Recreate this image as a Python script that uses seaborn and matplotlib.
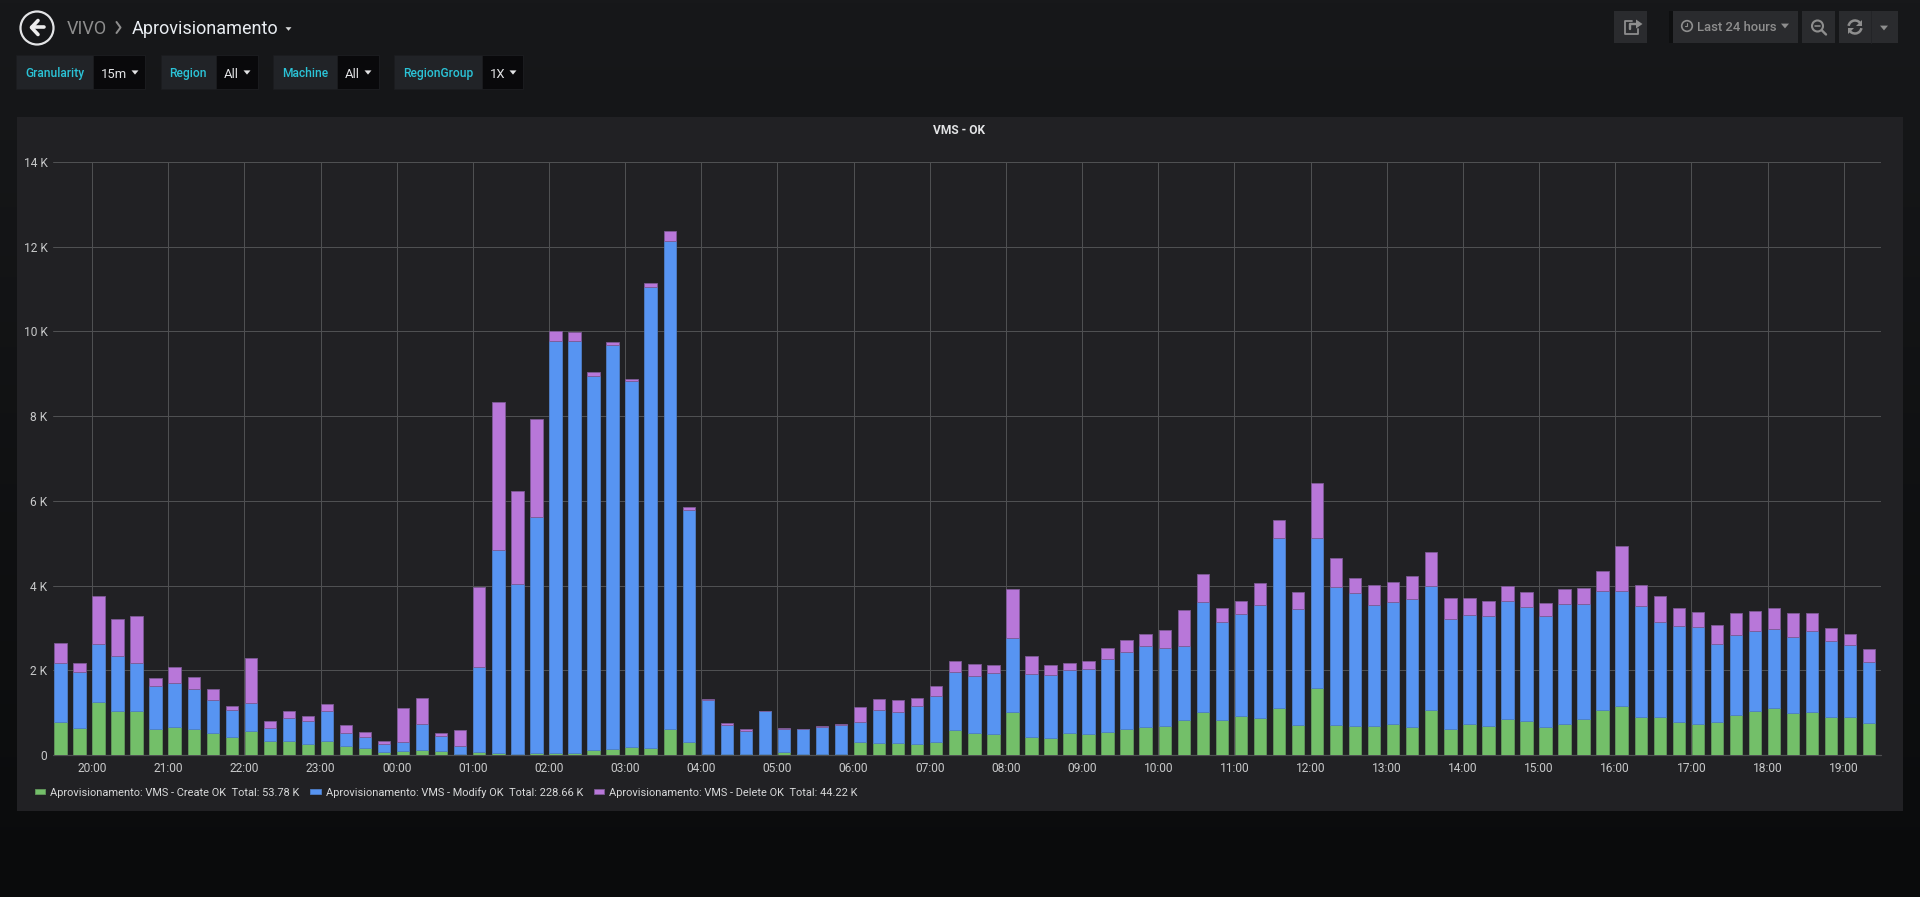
import matplotlib
matplotlib.use('Agg')
import matplotlib.pyplot as plt
import matplotlib.patches as mpatches
import numpy as np
import pandas as pd
import seaborn as sns

# 15 minute buckets, 19:30 to 19:15 the next day
create_ok = [790, 635, 1247, 1050, 1027, 620, 659, 612, 510, 416, 557, 321, 329, 259, 337, 204,
             157, 78, 102, 110, 94, 31, 65, 44, 26, 44, 52, 44, 122, 148, 191, 174,
             617, 304, 26, 26, 12, 16, 63, 31, 31, 31, 314, 290, 290, 251, 314, 596,
             510, 502, 1019, 431, 392, 517, 502, 549, 612, 659, 682, 831, 1015, 835,
             910, 862, 1114, 714, 1584, 706, 690, 690, 737, 667, 1067, 612, 737, 690, 847, 808,
             659, 741, 839, 1074, 1153, 886, 886, 776, 721, 776, 933, 1027, 1121, 980, 1019, 886,
             886, 745]
modify_ok = [1390, 1333, 1364, 1294, 1137, 1019, 1050, 940, 784, 635, 666, 314, 541, 549, 698, 313,
             266, 189, 204, 619, 353, 173, 2015, 4786, 4019, 5586, 9718, 9726, 8830, 9542, 8649, 10866,
             11513, 5481, 1261, 687, 565, 1011, 541, 573, 628, 675, 470, 776, 729, 909, 1074, 1356,
             1348, 1427, 1741, 1482, 1490, 1483, 1536, 1717, 1818, 1913, 1843, 1741, 2596, 2310,
             2415, 2683, 4000, 2729, 3530, 3255, 3130, 2855, 2879, 3011, 2917, 2604, 2573, 2581, 2785, 2682,
             2627, 2835, 2737, 2792, 2713, 2636, 2243, 2267, 2290, 1844, 1906, 1906, 1843, 1796, 1906, 1812,
             1710, 1451]
delete_ok = [455, 197, 1137, 878, 1121, 180, 361, 283, 266, 101, 1058, 165, 165, 109, 180, 188,
             118, 62, 815, 611, 70, 392, 1895, 3505, 2193, 2313, 235, 220, 88, 60, 40, 95,
             230, 79, 43, 52, 43, 8, 23, 8, 15, 15, 361, 267, 275, 196, 243, 267,
             290, 203, 1160, 415, 250, 180, 189, 259, 290, 290, 415, 846, 659, 337,
             314, 518, 431, 408, 1301, 698, 368, 471, 478, 549, 816, 494, 408, 353, 352, 361,
             314, 338, 377, 479, 1059, 494, 636, 439, 369, 438, 510, 463, 510, 580, 424, 305,
             251, 306]

series_names = ['Aprovisionamento: VMS - Create OK', 'Aprovisionamento: VMS - Modify OK',
                'Aprovisionamento: VMS - Delete OK']
series_totals = ['53.78 K', '228.66 K', '44.22 K']
hour_labels = ['20:00', '21:00', '22:00', '23:00', '00:00', '01:00', '02:00', '03:00', '04:00', '05:00',
               '06:00', '07:00', '08:00', '09:00', '10:00', '11:00', '12:00', '13:00', '14:00', '15:00',
               '16:00', '17:00', '18:00', '19:00']
y_ticks = [0, 2000, 4000, 6000, 8000, 10000, 12000, 14000]
y_labels = ['0', '2 K', '4 K', '6 K', '8 K', '10 K', '12 K', '14 K']

times = pd.date_range('2019-01-01 19:30', periods=len(create_ok), freq='15min').strftime('%d %H:%M')

GREEN, BLUE, PURPLE = '#73BF69', '#5794F2', '#B877D9'
EDGES = ['#62985C', '#4F7FC8', '#7D5A95']
GREY = '#8E8E8E'
TEAL = '#2BC4D8'
TICK = '#C8C9CA'
GRID = '#4F5052'
W, H = 1920, 897

sns.set_theme(style='dark')
plt.rcParams['font.family'] = ['Roboto', 'DejaVu Sans']

fig = plt.figure(figsize=(W / 100, H / 100), dpi=100)

# page chrome, drawn in pixel coordinates
bg = fig.add_axes([0, 0, 1, 1], zorder=0)
shade = np.linspace(0, 1, 256).reshape(-1, 1)
top_col, bot_col = np.array([0x17, 0x18, 0x1A]) / 255, np.array([0x0A, 0x0B, 0x0C]) / 255
bg.imshow((top_col + (bot_col - top_col) * shade[..., None]), aspect='auto', extent=[0, W, H, 0])
bg.set_xlim(0, W)
bg.set_ylim(H, 0)
bg.axis('off')


def box(x0, y0, x1, y1, color, ec='none'):
    bg.add_patch(mpatches.Rectangle((x0, y0), x1 - x0, y1 - y0, fc=color, ec=ec, lw=0.7))


def txt(x, y, s, color, px=12, weight='normal', ha='left'):
    bg.text(x, y - 1, s, color=color, fontsize=px * 0.72, fontweight=weight, ha=ha, va='center_baseline')


def caret(x, y, color, size=4):
    bg.add_patch(mpatches.Polygon([(x - size, y - size * 0.6), (x + size, y - size * 0.6), (x, y + size * 0.6)],
                                  fc=color, ec='none'))


def stroke(xs, ys, color, lw=2.0):
    bg.plot(xs, ys, color=color, lw=lw * 0.72, solid_capstyle='round', solid_joinstyle='round')


# panel
box(17, 117, 1903, 811, '#212124')
txt(959, 130.5, 'VMS - OK', '#E3E4E6', 12, 'bold', 'center')

# back button and breadcrumb
bg.add_patch(mpatches.Circle((37, 28), 16.5, fc='none', ec='#E3E4E6', lw=1.6))
stroke([38, 31.5, 38], [20.5, 27.5, 34.5], '#ECECEC', 3.6)
stroke([32, 44], [27.5, 27.5], '#ECECEC', 3.6)
txt(67, 28, 'VIVO', GREY, 18)
stroke([116.5, 120.5, 116.5], [22, 27.5, 33], GREY, 2)
txt(132, 28, 'Aprovisionamento', '#E9EDF2', 18)
caret(288.5, 29, '#D8D9DA', 3)

# template variables
var_boxes = [('Granularity', '15m', 16, 93, 145, 25, 101, 135),
             ('Region', 'All', 161, 216, 258, 169, 224, 247),
             ('Machine', 'All', 273, 337, 379, 282, 345, 368),
             ('RegionGroup', '1X', 394, 482, 523, 403, 490, 513)]
for name, val, x0, x1, x2, tx, vx, cx in var_boxes:
    box(x0, 55, x1, 89, '#212327', '#1B1C1F')
    box(x1, 55, x2, 89, '#09090B', '#1B1C1F')
    txt(tx, 73, name, TEAL, 12, 'medium')
    txt(vx, 74, val, '#E3E4E6', 13)
    caret(cx, 72.5, '#E3E4E6', 3.5)

# top right buttons
for x0, x1 in [(1614, 1647), (1673, 1798), (1802, 1835), (1839, 1870), (1870, 1898)]:
    box(x0, 11, x1, 43, '#2A2B2E')
stroke([1871, 1871], [11, 43], '#232427', 1)
box(1669, 11, 1673, 43, '#0E0F10')
# share
stroke([1632, 1625, 1625, 1638, 1638], [21, 21, 34, 34, 29], GREY, 1.8)
stroke([1630, 1630, 1637], [29, 24, 24], GREY, 2.4)
bg.add_patch(mpatches.Polygon([(1636, 19.5), (1642.5, 24), (1636, 28.5)], fc=GREY, ec='none'))
# time picker
bg.add_patch(mpatches.Circle((1687, 26), 5.3, fc='none', ec=GREY, lw=1.2))
stroke([1687, 1687, 1684.5], [23, 26.5, 26.5], GREY, 1.1)
txt(1697, 27, 'Last 24 hours', GREY, 13, 'medium')
caret(1785, 26, GREY, 4)
# zoom out
bg.add_patch(mpatches.Circle((1817.5, 26), 5.5, fc='none', ec=GREY, lw=1.5))
stroke([1815, 1820], [26, 26], GREY, 1.6)
stroke([1822, 1826], [30.5, 34.5], GREY, 2.4)
# refresh
bg.add_patch(mpatches.Arc((1855, 27), 13, 13, theta1=190, theta2=335, ec=GREY, lw=1.8))
bg.add_patch(mpatches.Arc((1855, 27), 13, 13, theta1=10, theta2=155, ec=GREY, lw=1.8))
bg.add_patch(mpatches.Polygon([(1862, 20), (1862, 26), (1856, 26)], fc=GREY, ec='none'))
bg.add_patch(mpatches.Polygon([(1848, 34), (1848, 28), (1854, 28)], fc=GREY, ec='none'))
caret(1884, 28, GREY, 4)

# the chart
ax = fig.add_axes([53 / W, (H - 755) / H, (1881 - 53) / W, 593 / H], zorder=1)
ax.patch.set_alpha(0)

colors = [GREEN, BLUE, PURPLE]
bottom = np.zeros(len(times))
for vals, name, total, col, edge in zip([create_ok, modify_ok, delete_ok], series_names, series_totals, colors, EDGES):
    sns.barplot(x=list(times), y=vals, color=col, saturation=1, width=0.65, bottom=bottom, ax=ax,
                edgecolor=edge, linewidth=0.6, label=f'{name}  Total: {total}', zorder=3)
    bottom = bottom + np.array(vals)

# bars start at their timestamp, so hour ticks sit on the left edge of each bar
hour_pos = np.arange(len(hour_labels)) * 4 + 2 - 0.34
ax.set_xticks(hour_pos, hour_labels)
ax.set_yticks(y_ticks, y_labels)
ax.set_xlim(-0.39, 95.62)
ax.set_ylim(0, 14000)
ax.set_xlabel('')
ax.set_ylabel('')
ax.set_axisbelow(True)
ax.grid(True, color=GRID, lw=0.72)
ax.tick_params(axis='both', length=0, colors=TICK, labelsize=12 * 0.72)
ax.tick_params(axis='x', pad=5)
ax.tick_params(axis='y', pad=4)
for s in ax.spines.values():
    s.set_visible(False)
ax.axhline(0, color=GRID, lw=0.9, zorder=2, clip_on=False)

leg = ax.legend(loc='upper left', bbox_to_anchor=((35 - 53) / 1828, -0.0535), ncol=3, frameon=False,
                handlelength=0.95, handleheight=0.3, handletextpad=0.45, columnspacing=0.97,
                borderpad=0, borderaxespad=0, fontsize=11 * 0.72, labelcolor='#D8D9DA')

fig.savefig('out.png', dpi=100, facecolor='#161719')
